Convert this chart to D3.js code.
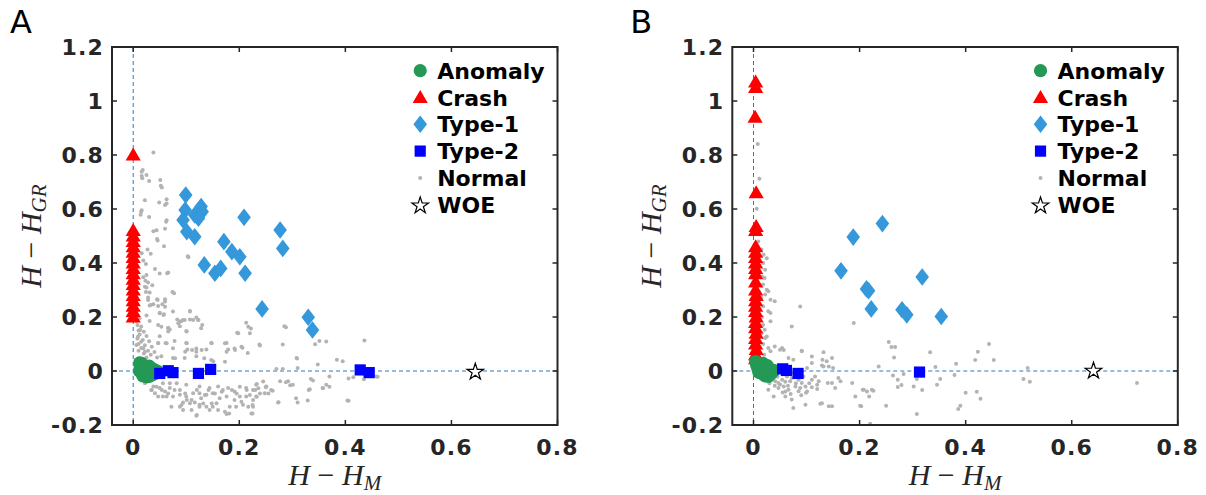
<!DOCTYPE html>
<html><head><meta charset="utf-8">
<script src="https://cdn.jsdelivr.net/npm/d3@7"></script>
<style>body{margin:0;background:#fff}svg{display:block}</style>
</head><body><svg id="c" width="1206" height="495"></svg>
<script>
const xTicks=[0,0.2,0.4,0.6,0.8];
const xTickLabels=["0","0.2","0.4","0.6","0.8"];
const yTicks=[-0.2,0,0.2,0.4,0.6,0.8,1,1.2];
const yTickLabels=["-0.2","0","0.2","0.4","0.6","0.8","1","1.2"];
const legendLabels=["Anomaly","Crash","Type-1","Type-2","Normal","WOE"];
const panelLetters=["A","B"];

// ---------- Panel A ----------
const A_anomaly=[[0.012,0.030],[0.015,0.020],[0.013,0.010],[0.018,0.000],[0.020,-0.010],[0.025,-0.015],[0.030,-0.020],[0.022,0.015],[0.028,0.005],[0.035,-0.005],[0.040,-0.010],[0.044,-0.004],[0.045,0.000],[0.030,0.018],[0.035,0.010],[0.040,0.004],[0.025,-0.022],[0.018,-0.018],[0.012,0.000],[0.036,-0.014],[0.016,0.028]];
const A_crash=[[0,0.80],[0,0.52],[0,0.50],[0,0.48],[0,0.46],[0,0.44],[0,0.42],[0,0.40],[0,0.38],[0,0.36],[0,0.34],[0,0.32],[0,0.30],[0,0.28],[0,0.26],[0,0.24],[0,0.22],[0,0.20]];
const A_type1=[[0.099,0.652],[0.098,0.596],[0.094,0.559],[0.128,0.609],[0.130,0.590],[0.116,0.578],[0.123,0.566],[0.101,0.516],[0.116,0.497],[0.209,0.569],[0.171,0.479],[0.186,0.442],[0.201,0.423],[0.134,0.393],[0.154,0.362],[0.165,0.380],[0.211,0.362],[0.243,0.230],[0.277,0.522],[0.282,0.454],[0.330,0.199],[0.338,0.152]];
const A_type2=[[0.050,-0.009],[0.066,0.001],[0.075,-0.006],[0.123,-0.009],[0.146,0.006],[0.428,0.004],[0.445,-0.006]];
const A_woe=[[0.645,0.0]];
const A_normal=[[0.038,0.809],[0.018,0.744],[0.016,0.722],[0.025,0.726],[0.030,0.704],[0.051,0.707],[0.052,0.686],[0.022,0.632],[0.049,0.624],[0.063,0.636],[0.063,0.620],[0.016,0.595],[0.014,0.579],[0.030,0.570],[0.038,0.518],[0.044,0.521],[0.060,0.527],[0.063,0.558],[0.045,0.489],[0.058,0.462],[0.027,0.450],[0.033,0.434],[0.103,0.425],[0.019,0.409],[0.024,0.396],[0.041,0.378],[0.050,0.361],[0.066,0.365],[0.019,0.347],[0.028,0.328],[0.036,0.318],[0.025,0.309],[0.074,0.293],[0.024,0.293],[0.031,0.291],[0.028,0.272],[0.045,0.266],[0.060,0.266],[0.055,0.247],[0.031,0.243],[0.038,0.247],[0.050,0.216],[0.058,0.210],[0.025,0.206],[0.031,0.185],[0.083,0.191],[0.091,0.185],[0.097,0.189],[0.107,0.191],[0.119,0.198],[0.122,0.189],[0.107,0.222],[0.053,0.164],[0.066,0.160],[0.069,0.154],[0.088,0.166],[0.100,0.148],[0.213,0.179],[0.222,0.157],[0.285,0.166],[0.196,0.142],[0.050,0.129],[0.047,0.104],[0.061,0.104],[0.078,0.111],[0.100,0.104],[0.102,0.080],[0.119,0.083],[0.138,0.080],[0.147,0.104],[0.176,0.104],[0.179,0.080],[0.191,0.083],[0.206,0.086],[0.238,0.098],[0.282,0.098],[0.351,0.111],[0.364,0.109],[0.436,0.113],[0.053,0.055],[0.075,0.048],[0.097,0.048],[0.119,0.055],[0.151,0.036],[0.173,0.034],[0.216,0.067],[0.308,0.048],[0.310,0.011],[0.348,0.024],[0.384,0.042],[0.395,0.036],[0.270,0.007],[0.282,0.007],[0.292,-0.038],[0.301,-0.051],[0.335,-0.030],[0.339,-0.035],[0.331,-0.070],[0.357,-0.063],[0.364,-0.051],[0.370,-0.020],[0.404,-0.109],[0.307,-0.101],[0.310,-0.117],[0.329,-0.109],[0.273,-0.117],[0.436,-0.014],[0.448,-0.014],[0.458,-0.020],
[0.034,-0.070],[0.041,-0.082],[0.050,-0.063],[0.060,-0.076],[0.069,-0.063],[0.078,-0.070],[0.063,-0.094],[0.075,-0.094],[0.088,-0.088],[0.100,-0.094],[0.113,-0.082],[0.125,-0.082],[0.138,-0.088],[0.150,-0.082],[0.160,-0.057],[0.169,-0.070],[0.179,-0.063],[0.191,-0.076],[0.213,-0.063],[0.226,-0.070],[0.232,-0.051],[0.245,-0.039],[0.251,-0.057],[0.260,-0.070],[0.248,-0.082],[0.232,-0.094],[0.213,-0.094],[0.201,-0.094],[0.191,-0.107],[0.176,-0.094],[0.163,-0.101],[0.157,-0.119],[0.150,-0.132],[0.138,-0.132],[0.125,-0.125],[0.116,-0.117],[0.107,-0.119],[0.094,-0.117],[0.088,-0.132],[0.094,-0.144],[0.110,-0.144],[0.119,-0.166],[0.125,-0.132],[0.144,-0.144],[0.160,-0.144],[0.176,-0.159],[0.181,-0.157],[0.194,-0.132],[0.207,-0.125],[0.226,-0.132],[0.223,-0.157],[0.072,-0.132],[0.056,-0.094],[0.047,-0.094],[0.038,-0.057],[0.022,-0.045],[0.031,-0.032],[0.044,-0.026],[0.056,-0.045],[0.069,-0.045],[0.082,-0.045],[0.100,-0.051],[0.125,-0.057],[0.144,-0.063],
[0.022,0.312],[0.028,0.263],[0.033,0.244],[0.046,0.263],[0.047,0.241],[0.060,0.257],[0.060,0.238],[0.077,0.288],[0.050,0.214],[0.057,0.207],[0.075,0.220],[0.107,0.220],[0.113,0.189],[0.123,0.189],[0.088,0.183],[0.094,0.189],[0.085,0.177],[0.047,0.170],[0.066,0.158],[0.066,0.146],[0.101,0.146],[0.128,0.158],[0.130,0.170],[0.013,0.152],[0.009,0.127],[0.015,0.108],[0.006,0.096],[0.019,0.084],[0.022,0.071],[0.047,0.103],[0.063,0.103],[0.075,0.084],[0.079,0.047],[0.101,0.103],[0.098,0.071],[0.111,0.078],[0.119,0.071],[0.129,0.078],[0.134,0.047],[0.147,0.041],[0.148,0.103],[0.173,0.103],[0.176,0.071],[0.192,0.078],[0.204,0.090],[0.198,0.140],[0.217,0.164],[0.220,0.140],
[0.035,-0.070],[0.044,-0.058],[0.054,-0.070],[0.066,-0.083],[0.088,-0.070],[0.098,-0.083],[0.101,-0.107],[0.110,-0.107],[0.120,-0.070],[0.128,-0.101],[0.135,-0.089],[0.142,-0.070],[0.154,-0.083],[0.167,-0.077],[0.186,-0.070],[0.195,-0.083],[0.201,-0.058],[0.214,-0.070],[0.220,-0.089],[0.091,-0.126],[0.120,-0.163],[0.132,-0.120],[0.148,-0.120],[0.173,-0.151],[0.182,-0.132],[0.204,-0.114],[0.217,-0.132],
[0.233,-0.048],[0.236,-0.064],[0.230,-0.070],[0.239,-0.083],[0.233,-0.095],[0.226,-0.107],[0.255,-0.083],[0.263,-0.073],[0.225,-0.126],[0.225,-0.157],[0.288,-0.042],[0.296,-0.053],[0.277,-0.038],[0.250,-0.060],[0.358,-0.064],[0.370,-0.058],[0.333,-0.068],[0.274,-0.116],[0.406,-0.110],[0.406,-0.028],[0.415,-0.023],[0.435,-0.031],[0.461,-0.021],[0.239,0.094],[0.288,0.162],[0.309,0.046],[0.343,0.099],
[0.008,0.170],[0.015,0.165],[0.010,0.150],[0.020,0.145],[0.012,0.135],[0.025,0.130],[0.008,0.120],[0.018,0.115],[0.030,0.110],[0.010,0.100],[0.022,0.095],[0.035,0.090],[0.015,0.085],[0.028,0.075],[0.040,0.070],[0.010,0.075],[0.020,0.065],[0.033,0.060],[0.045,0.050],[0.025,0.050],[0.006,0.185],[0.012,0.195],
[0.016,0.738],[0.017,0.714],[0.054,0.680],[0.060,0.615],[0.015,0.590],[0.062,0.553],[0.046,0.483],[0.016,0.436],[0.025,0.356],[0.064,0.362],[0.023,0.334],[0.104,0.421]];

// ---------- Panel B ----------
const B_anomaly=[[0.004,0.035],[0.006,0.022],[0.008,0.010],[0.012,0.000],[0.016,-0.010],[0.022,-0.018],[0.028,-0.020],[0.015,0.025],[0.020,0.015],[0.025,0.008],[0.030,0.000],[0.035,-0.005],[0.038,0.002],[0.032,-0.012],[0.018,0.028],[0.026,0.020],[0.010,-0.005],[0.020,-0.005],[0.008,0.030]];
const B_crash=[[0.004,1.07],[0.004,1.05],[0.003,0.94],[0.005,0.66],[0.005,0.535],[0.004,0.52],[0.004,0.46],[0.004,0.44],[0.004,0.42],[0.004,0.40],[0.004,0.38],[0.004,0.36],[0.004,0.33],[0.004,0.30],[0.005,0.28],[0.004,0.26],[0.004,0.24],[0.004,0.22],[0.005,0.20],[0.004,0.18],[0.004,0.16],[0.005,0.14],[0.004,0.12],[0.004,0.10],[0.005,0.08],[0.004,0.06],[0.004,0.045]];
const B_type1=[[0.243,0.546],[0.188,0.496],[0.165,0.371],[0.318,0.348],[0.213,0.304],[0.217,0.297],[0.222,0.230],[0.280,0.227],[0.289,0.208],[0.354,0.202]];
const B_type2=[[0.055,0.008],[0.062,0.002],[0.084,-0.009],[0.313,-0.004]];
const B_woe=[[0.641,0.004]];
const B_normal=[[0.008,0.841],[0.011,0.712],[0.006,0.601],[0.009,0.480],[0.019,0.431],[0.025,0.418],[0.022,0.375],[0.021,0.344],[0.025,0.301],[0.028,0.295],[0.022,0.283],[0.032,0.264],[0.040,0.258],[0.028,0.221],[0.032,0.215],[0.032,0.184],[0.021,0.153],[0.022,0.122],[0.025,0.128],[0.028,0.085],[0.032,0.073],[0.040,0.091],[0.054,0.085],[0.057,0.078],[0.050,0.079],[0.091,0.075],[0.088,0.239],[0.072,0.165],[0.189,0.178],
[0.015,0.450],[0.018,0.400],[0.016,0.350],[0.018,0.320],[0.015,0.270],[0.018,0.240],[0.016,0.200],[0.018,0.170],[0.015,0.140],[0.018,0.100],[0.020,0.060],
[0.066,0.048],[0.075,0.042],[0.110,0.054],[0.132,0.069],[0.130,0.042],[0.138,0.036],[0.148,0.048],[0.132,0.017],[0.142,0.017],[0.160,-0.026],[0.148,-0.044],[0.186,-0.044],[0.208,-0.069],[0.214,-0.076],[0.223,-0.069],[0.192,-0.094],[0.203,-0.131],[0.116,-0.020],[0.120,-0.051],[0.101,-0.076],[0.079,-0.057],[0.066,-0.069],[0.060,-0.094],[0.047,-0.063],[0.028,-0.069],[0.075,-0.137],[0.098,-0.125],[0.129,-0.119],[0.142,-0.131],[0.148,-0.131],[0.140,-0.044],[0.120,-0.067],[0.041,-0.038],[0.054,-0.032],[0.047,-0.044],[0.057,-0.057],[0.063,-0.020],[0.069,-0.038],[0.072,-0.026],[0.085,-0.032],[0.091,-0.044],[0.094,-0.020],[0.098,-0.057],[0.091,0.073],[0.110,0.030],[0.101,0.011],[0.075,-0.007],[0.150,0.011],[0.129,0.020],[0.164,-0.038],[0.154,-0.063],[0.123,-0.038],[0.110,-0.032],[0.038,-0.094],[0.072,-0.106],[0.088,-0.063],[0.099,-0.081],[0.126,-0.121],[0.060,-0.076],
[0.035,-0.030],[0.045,-0.020],[0.050,-0.050],[0.060,-0.040],[0.065,-0.055],[0.080,-0.045],[0.085,-0.075],[0.070,-0.085],[0.055,-0.080],[0.040,-0.055],[0.030,-0.045],[0.090,-0.090],[0.105,-0.045],[0.110,-0.060],
[0.255,0.107],[0.260,0.089],[0.267,0.089],[0.265,0.050],[0.333,0.069],[0.236,0.017],[0.263,-0.017],[0.272,-0.032],[0.283,-0.011],[0.272,-0.059],[0.279,-0.052],[0.302,-0.057],[0.318,-0.070],[0.308,-0.030],[0.343,0.015],[0.352,-0.030],[0.346,-0.051],[0.382,0.027],[0.379,-0.015],[0.418,0.041],[0.423,0.071],[0.444,0.100],[0.453,0.041],[0.400,-0.081],[0.421,-0.077],[0.428,-0.103],[0.390,-0.129],[0.386,-0.141],[0.308,-0.159],[0.250,-0.129],[0.206,-0.069],[0.218,-0.094],[0.226,-0.073],[0.201,-0.129],[0.220,-0.195],[0.517,0.011],[0.509,-0.030],[0.521,-0.040],[0.723,-0.044]];

const colors={anomaly:"#239955",crash:"#ff0000",type1:"#3498db",type2:"#0000ff",normal:"#b3b3b3",axis:"#262626",ref:"#2a7bbd"};

const panels=[
 {letter:panelLetters[0],left:112,anomaly:A_anomaly,crash:A_crash,type1:A_type1,type2:A_type2,normal:A_normal,woe:A_woe},
 {letter:panelLetters[1],left:732.3,anomaly:B_anomaly,crash:B_crash,type1:B_type1,type2:B_type2,normal:B_normal,woe:B_woe}
];
const W=445.5, TOP=47, BOT=425;
const svg=d3.select("#c");
const tickFont="'DejaVu Sans', sans-serif";

const shapes={
 circle:(g,x,y)=>g.append("circle").attr("cx",x).attr("cy",y).attr("r",6.6).attr("fill",colors.anomaly),
 tri:(g,x,y)=>g.append("path").attr("d",`M${x},${y-7.5}L${x+7.6},${y+5.5}L${x-7.6},${y+5.5}Z`).attr("fill",colors.crash),
 diamond:(g,x,y)=>g.append("path").attr("d",`M${x},${y-8.8}L${x+6.8},${y}L${x},${y+8.8}L${x-6.8},${y}Z`).attr("fill",colors.type1),
 square:(g,x,y)=>g.append("rect").attr("x",x-5.6).attr("y",y-5.6).attr("width",11.2).attr("height",11.2).attr("fill",colors.type2),
 dot:(g,x,y)=>g.append("circle").attr("cx",x).attr("cy",y).attr("r",2).attr("fill",colors.normal),
 star:(g,x,y)=>g.append("path").attr("d",d3.symbol(d3.symbolStar,85)()).attr("transform",`translate(${x},${y+1})`).attr("fill","#fff").attr("stroke","#000").attr("stroke-width",1.2)
};

panels.forEach(p=>{
  const x=d3.scaleLinear().domain([-0.04,0.8]).range([p.left,p.left+W]);
  const y=d3.scaleLinear().domain([-0.2,1.2]).range([BOT,TOP]);
  const g=svg.append("g");
  g.append("line").attr("x1",x(0)).attr("x2",x(0)).attr("y1",TOP).attr("y2",BOT)
    .attr("stroke",colors.ref).attr("stroke-width",1).attr("stroke-dasharray","4,3");
  g.append("line").attr("x1",p.left).attr("x2",p.left+W).attr("y1",y(0)).attr("y2",y(0))
    .attr("stroke",colors.ref).attr("stroke-width",1).attr("stroke-dasharray","4,3");
  p.normal.forEach(d=>shapes.dot(g,x(d[0]),y(d[1])));
  p.crash.forEach(d=>shapes.tri(g,x(d[0]),y(d[1])));
  p.type1.forEach(d=>shapes.diamond(g,x(d[0]),y(d[1])));
  p.anomaly.forEach(d=>shapes.circle(g,x(d[0]),y(d[1])));
  p.type2.forEach(d=>shapes.square(g,x(d[0]),y(d[1])));
  p.woe.forEach(d=>shapes.star(g,x(d[0]),y(d[1])));
  g.append("rect").attr("x",p.left).attr("y",TOP).attr("width",W).attr("height",BOT-TOP)
    .attr("fill","none").attr("stroke",colors.axis).attr("stroke-width",2);
  xTicks.forEach((t,i)=>{
    g.append("line").attr("x1",x(t)).attr("x2",x(t)).attr("y1",BOT).attr("y2",BOT-5).attr("stroke",colors.axis).attr("stroke-width",1.5);
    g.append("line").attr("x1",x(t)).attr("x2",x(t)).attr("y1",TOP).attr("y2",TOP+5).attr("stroke",colors.axis).attr("stroke-width",1.5);
    g.append("text").attr("x",x(t)).attr("y",454.5).attr("text-anchor","middle").attr("letter-spacing",1.2)
      .attr("font-family",tickFont).attr("font-weight","bold").attr("font-size",22).attr("fill",colors.axis).text(xTickLabels[i]);
  });
  yTicks.forEach((t,i)=>{
    g.append("line").attr("x1",p.left).attr("x2",p.left+5).attr("y1",y(t)).attr("y2",y(t)).attr("stroke",colors.axis).attr("stroke-width",1.5);
    g.append("line").attr("x1",p.left+W).attr("x2",p.left+W-5).attr("y1",y(t)).attr("y2",y(t)).attr("stroke",colors.axis).attr("stroke-width",1.5);
    g.append("text").attr("x",p.left-8).attr("y",y(t)+8).attr("text-anchor","end").attr("letter-spacing",1.2)
      .attr("font-family",tickFont).attr("font-weight","bold").attr("font-size",22).attr("fill",colors.axis).text(yTickLabels[i]);
  });
  const xl=g.append("text").attr("x",p.left+W/2).attr("y",485).attr("text-anchor","middle")
    .attr("font-family","'Liberation Serif', serif").attr("font-size",30).attr("fill",colors.axis);
  xl.append("tspan").attr("font-style","italic").text("H");
  xl.append("tspan").text(" \u2212 ");
  xl.append("tspan").attr("font-style","italic").text("H");
  xl.append("tspan").attr("font-style","italic").attr("font-size",21).attr("dy",5).text("M");
  const yl=g.append("text").attr("transform",`translate(${p.left-71},${(TOP+BOT)/2}) rotate(-90)`).attr("text-anchor","middle")
    .attr("font-family","'Liberation Serif', serif").attr("font-size",30).attr("fill",colors.axis);
  yl.append("tspan").attr("font-style","italic").text("H");
  yl.append("tspan").text(" \u2212 ");
  yl.append("tspan").attr("font-style","italic").text("H");
  yl.append("tspan").attr("font-style","italic").attr("font-size",21).attr("dy",5).text("GR");
  svg.append("text").attr("x",p.left-102).attr("y",33).attr("font-family","'DejaVu Sans', sans-serif")
    .attr("font-size",32).attr("fill","#000").text(p.letter);
  const lx=x(0)+287, ly0=70.7, dy=26.8;
  const keys=["circle","tri","diamond","square","dot","star"];
  legendLabels.forEach((lab,i)=>{
    const yy=ly0+i*dy;
    shapes[keys[i]](g,lx,yy);
    g.append("text").attr("x",lx+17).attr("y",yy+8).attr("font-family",tickFont).attr("font-weight","bold")
      .attr("font-size",22).attr("fill","#000").text(lab);
  });
});
</script></body></html>
